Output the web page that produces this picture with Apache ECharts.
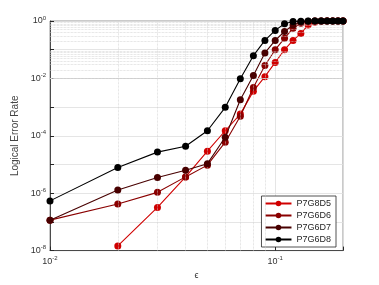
<!DOCTYPE html>
<html><head><meta charset="utf-8">
<script src="https://cdn.jsdelivr.net/npm/echarts@6/dist/echarts.min.js"></script>
<style>html,body{margin:0;padding:0;background:#fff}#c{width:379px;height:285px}</style>
</head><body><div id="c"></div>
<script>
const eps = [0.01,0.02,0.03,0.04,0.05,0.06,0.07,0.08,0.09,0.10,0.11,0.12,0.13,0.14,0.15,0.16,0.17,0.18,0.19,0.20];
const seriesNames = ['P7G8D5','P7G6D6','P7G6D7','P7G6D8'];
const d5 = [null,1.45e-8,3.2e-7,3.7e-6,2.9e-5,1.5e-4,5.7e-4,3.6e-3,1.15e-2,3.6e-2,0.10,0.21,0.37,0.72,0.91,0.98,0.995,1,1,1];
const d6 = [1.15e-7,4.2e-7,1.07e-6,3.7e-6,9.5e-6,6.0e-5,4.8e-4,4.8e-3,2.8e-2,0.10,0.25,0.56,0.83,0.96,0.995,1,1,1,1,1];
const d7 = [1.15e-7,1.3e-6,3.5e-6,6.3e-6,1.07e-5,8.9e-5,1.8e-3,1.26e-2,7.7e-2,0.21,0.43,0.72,0.93,0.99,1,1,1,1,1,1];
const d8 = [5.4e-7,7.9e-6,2.7e-5,4.3e-5,1.5e-4,9.8e-4,9.8e-3,6.2e-2,0.21,0.47,0.80,0.96,0.99,1,1,1,1,1,1,1];
const colors = ['#d00000','#8a0000','#480000','#000000'];
const yTickExps = [0,-2,-4,-6,-8];
const xTickExps = [-2,-1];

const allY = [d5,d6,d7,d8];
const pairs = ys => eps.map((x,i)=> ys[i]==null ? [x,'-'] : [x, ys[i]]);

// minor grid positions
const minorY = [];
for (let e=-8;e<0;e++) for (let k=2;k<=9;k++) minorY.push(k*Math.pow(10,e));
const minorX = [];
for (let k=2;k<=9;k++) minorX.push(k*0.01);

const rich = {
  b:{fontSize:9,color:'#333',fontFamily:'Liberation Sans'},
  s:{fontSize:6,color:'#333',fontFamily:'Liberation Sans',padding:[0,0,6,0]}
};
const fmt = (v, allowed) => {
  const e = Math.round(Math.log10(v));
  if (Math.abs(Math.log10(v)-e) > 1e-6) return '';
  if (allowed.indexOf(e) < 0) return '';
  return '{b|10}{s|' + e + '}';
};

const series = allY.map((ys,i)=>({
  name: seriesNames[i], type:'line', data: pairs(ys),
  symbol:'circle', symbolSize:7, showSymbol:true,
  lineStyle:{color:colors[i], width:1.1},
  itemStyle:{color:colors[i]},
  z: 3+i, animation:false
}));
series.unshift({
  type:'line', data:[], silent:true, animation:false, z:1,
  markLine:{
    silent:true, symbol:'none', animation:false, label:{show:false},
    lineStyle:{type:'dotted', color:'#cfcfcf', width:0.7},
    data: minorY.map(v=>({yAxis:v})).concat(minorX.map(v=>({xAxis:v})))
  }
});

const chart = echarts.init(document.getElementById('c'), null, {renderer:'canvas'});
chart.setOption({
  animation:false,
  backgroundColor:'#fff',
  grid:{left:50,right:36,top:21,bottom:32,show:true,borderColor:'#7a7a7a',borderWidth:0.8},
  xAxis:{
    type:'log', logBase:10, min:0.01, max:0.2,
    name:'ϵ', nameLocation:'middle', nameGap:16,
    nameTextStyle:{fontSize:9,color:'#333',fontFamily:'Liberation Sans'},
    axisLine:{lineStyle:{color:'#262626',width:0.8}},
    axisTick:{inside:true,length:4,lineStyle:{color:'#262626'}},
    axisLabel:{formatter:v=>fmt(v,xTickExps), rich:rich, margin:5},
    splitLine:{show:true,lineStyle:{color:'#dedede',width:0.8}}
  },
  yAxis:{
    type:'log', logBase:10, min:1e-8, max:1,
    name:'Logical Error Rate', nameLocation:'middle', nameGap:22,
    nameTextStyle:{fontSize:10,color:'#444',fontFamily:'Liberation Sans'},
    axisLine:{lineStyle:{color:'#262626',width:0.8}},
    axisTick:{inside:true,length:4,lineStyle:{color:'#262626'}},
    axisLabel:{formatter:v=>fmt(v,yTickExps), rich:rich, margin:4},
    splitLine:{show:true,lineStyle:{color:'#dedede',width:0.8}}
  },
  legend:{
    data: seriesNames, orient:'vertical', right:43, bottom:38,
    itemWidth:26, itemHeight:7, itemGap:3,
    padding:[3,5,3,3],
    borderColor:'#262626', borderWidth:0.8, backgroundColor:'#fff',
    textStyle:{fontSize:9,color:'#262626',fontFamily:'Liberation Sans'}
  },
  series: series
});
</script></body></html>
